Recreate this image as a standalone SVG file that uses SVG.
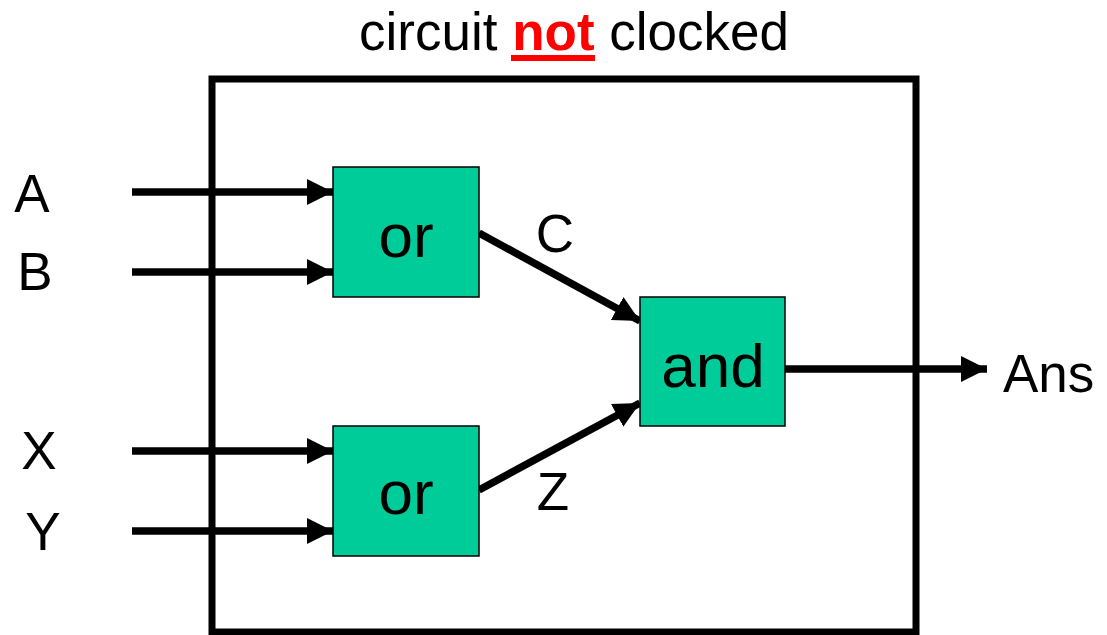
<svg xmlns="http://www.w3.org/2000/svg" width="1107" height="635" viewBox="0 0 1107 635">
  <style>
    text { font-family: "Liberation Sans", Arial, sans-serif; fill: #000; }
    .lbl { font-size: 53px; text-anchor: middle; }
    .gate-label { font-size: 62px; text-anchor: middle; }
    .gate { fill: #00CC99; stroke: #000; stroke-width: 1.5; }
    .wire { stroke: #000; stroke-width: 7.5; fill: none; }
  </style>
  <defs>
    <marker id="arrow" viewBox="0 0 26 26" refX="26" refY="13" markerUnits="userSpaceOnUse" markerWidth="26" markerHeight="26" orient="auto">
      <path d="M0,0 L26,13 L0,26 Z" fill="#000"/>
    </marker>
  </defs>
  <rect width="1107" height="635" fill="#fff"/>

  <g id="title">
    <text x="574" y="50" style="font-size:53px;text-anchor:middle">circuit <tspan font-weight="bold" fill="#FF0000" style="fill:#FF0000">not</tspan> clocked</text>
    <rect x="511" y="55" width="84" height="6" fill="#FF0000"/>
  </g>

  <g id="circuit-boundary">
    <rect x="212" y="79" width="704" height="553" fill="none" stroke="#000" stroke-width="7"/>
  </g>

  <g id="connectors">
    <line class="wire" x1="132" y1="192" x2="333" y2="192" marker-end="url(#arrow)"/>
    <line class="wire" x1="132" y1="272" x2="333" y2="272" marker-end="url(#arrow)"/>
    <line class="wire" x1="132" y1="451" x2="333" y2="451" marker-end="url(#arrow)"/>
    <line class="wire" x1="132" y1="531" x2="333" y2="531" marker-end="url(#arrow)"/>
    <line class="wire" x1="479" y1="233" x2="640" y2="321" marker-end="url(#arrow)"/>
    <line class="wire" x1="479" y1="490" x2="640" y2="403" marker-end="url(#arrow)"/>
    <line class="wire" x1="785" y1="369" x2="987" y2="369" marker-end="url(#arrow)"/>
  </g>

  <g id="input-A"><text class="lbl" x="32" y="212">A</text></g>
  <g id="input-B"><text class="lbl" x="35" y="290">B</text></g>
  <g id="input-X"><text class="lbl" x="39" y="469">X</text></g>
  <g id="input-Y"><text class="lbl" x="43" y="550">Y</text></g>

  <g id="or-top">
    <rect class="gate" x="333" y="167" width="146" height="130"/>
    <text class="gate-label" x="406" y="257">or</text>
  </g>
  <g id="or-bottom">
    <rect class="gate" x="333" y="426" width="146" height="130"/>
    <text class="gate-label" x="406" y="514">or</text>
  </g>
  <g id="and-gate">
    <rect class="gate" x="640" y="297" width="145" height="129"/>
    <text class="gate-label" x="713" y="387">and</text>
  </g>

  <g id="label-C"><text class="lbl" x="555" y="252">C</text></g>
  <g id="label-Z"><text class="lbl" x="553" y="510">Z</text></g>
  <g id="output-Ans"><text x="1003" y="392" style="font-size:53px">Ans</text></g>
</svg>
